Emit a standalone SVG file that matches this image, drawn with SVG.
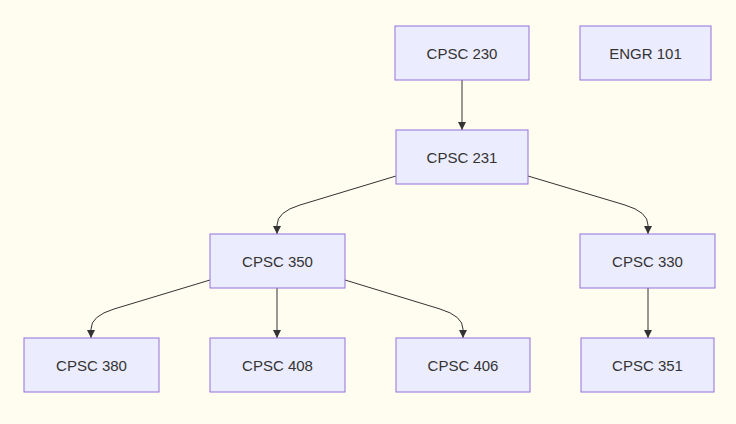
<svg xmlns="http://www.w3.org/2000/svg" width="736" height="424" viewBox="0 0 736 424">
<style>
.n rect{fill:#ECECFF;stroke:#9370DB;stroke-width:1}
.n text{font-family:"Liberation Sans",Arial,sans-serif;font-size:15px;fill:#333;text-anchor:middle;dominant-baseline:central}
.e path{fill:none;stroke:#333;stroke-width:1}
</style>
<defs><marker id="a" viewBox="0 0 10 10" refX="10" refY="5" markerWidth="8" markerHeight="8" orient="auto"><path d="M0,0L10,5L0,10z" fill="#333"/></marker></defs>
<rect width="736" height="424" fill="#FFFDF0"/>
<g class="e">
<path d="M462,80V130" marker-end="url(#a)"/>
<path d="M396,176L300,205Q277,212 277,225V234" marker-end="url(#a)"/>
<path d="M528,176L625,205Q648,212 648,225V234" marker-end="url(#a)"/>
<path d="M210,280L114,309Q91,316 91,329V338" marker-end="url(#a)"/>
<path d="M277,288V338" marker-end="url(#a)"/>
<path d="M345,280L440,309Q463,316 463,329V338" marker-end="url(#a)"/>
<path d="M648,288V338" marker-end="url(#a)"/>
</g>
<g id="c230" class="n"><rect x="395" y="26" width="134" height="54"/><text x="462" y="53">CPSC 230</text></g>
<g id="e101" class="n"><rect x="580" y="26" width="131" height="54"/><text x="645.5" y="53">ENGR 101</text></g>
<g id="c231" class="n"><rect x="396" y="130" width="132" height="54"/><text x="462" y="157">CPSC 231</text></g>
<g id="c350" class="n"><rect x="210" y="234" width="135" height="54"/><text x="277.5" y="261">CPSC 350</text></g>
<g id="c330" class="n"><rect x="580" y="234" width="135" height="54"/><text x="647.5" y="261">CPSC 330</text></g>
<g id="c380" class="n"><rect x="24" y="338" width="135" height="54"/><text x="91.5" y="365">CPSC 380</text></g>
<g id="c408" class="n"><rect x="210" y="338" width="135" height="54"/><text x="277.5" y="365">CPSC 408</text></g>
<g id="c406" class="n"><rect x="396" y="338" width="134" height="54"/><text x="463" y="365">CPSC 406</text></g>
<g id="c351" class="n"><rect x="581" y="338" width="133" height="54"/><text x="647.5" y="365">CPSC 351</text></g>
</svg>
